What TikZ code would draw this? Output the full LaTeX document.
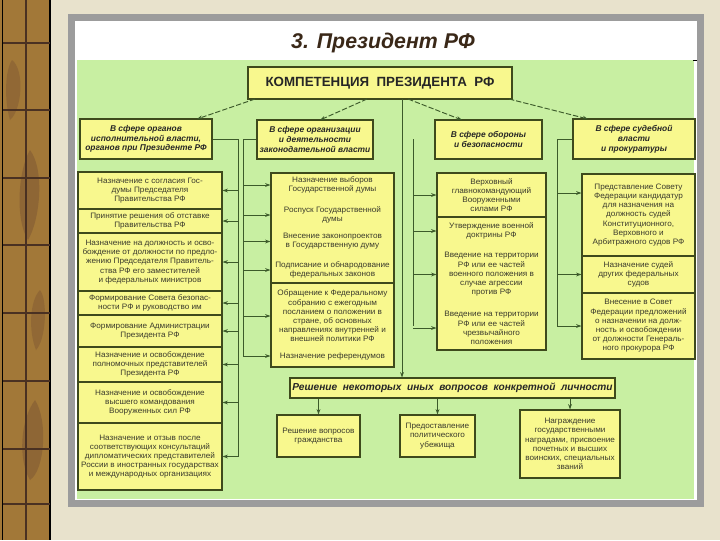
\documentclass[tikz,border=0pt]{standalone}
\usepackage{fontspec}
\setmainfont{Liberation Sans}
\newfontfamily\smallsans[FakeStretch=1.04]{Liberation Sans}
\usetikzlibrary{arrows.meta,fit}
\definecolor{parch}{HTML}{E8E2CC}
\definecolor{stripc}{HTML}{A27838}
\definecolor{stripdk}{HTML}{6A4630}
\definecolor{framegray}{HTML}{9C9C9C}
\definecolor{bggreen}{HTML}{C8EFA2}
\definecolor{boxyel}{HTML}{F8F88E}
\definecolor{boxline}{HTML}{3E4A1C}
\definecolor{conncol}{HTML}{3C5A2A}
\definecolor{txtc}{HTML}{3A3A2C}
\definecolor{titlec}{HTML}{3A2818}
\begin{document}
\begin{tikzpicture}[x=0.75pt,y=-0.75pt,
  box/.style={draw=boxline, fill=boxyel, line width=0.8pt, inner sep=0pt},
  stxt/.style={font=\smallsans\fontsize{5.9}{6.9}\selectfont, text=txtc, align=center, inner sep=0pt},
  htxt/.style={font=\fontsize{6.3}{7.3}\selectfont\bfseries\itshape, text=black!85, align=center, inner sep=0pt},
  cline/.style={draw=conncol, line width=0.7pt},
  arr/.style={cline, -{Stealth[length=4pt,width=2.8pt]}},
  dsh/.style={arr, dash pattern=on 4pt off 1.5pt}]
\useasboundingbox (0,0) rectangle (720,540);
% background
\fill[parch] (0,0) rectangle (720,540);
% left decorative strip
\fill[stripc] (0,0) rectangle (51,540);
\fill[stripdk, opacity=0.35] (30,150) .. controls (45,170) and (40,220) .. (28,240) .. controls (15,220) and (18,170) .. (30,150);
\fill[stripdk, opacity=0.35] (35,400) .. controls (48,420) and (45,470) .. (30,480) .. controls (18,460) and (20,420) .. (35,400);
\fill[stripdk, opacity=0.3] (12,60) .. controls (25,70) and (22,110) .. (10,120) .. controls (4,100) and (5,70) .. (12,60);
\fill[stripdk, opacity=0.3] (40,290) .. controls (48,300) and (46,340) .. (36,350) .. controls (28,330) and (30,300) .. (40,290);
\draw[black, line width=1.2pt] (2.5,0) -- (2.5,540) (50,0) -- (50,540);
\draw[stripdk!70!black, line width=0.8pt] (26,0) -- (26,540);
\foreach \yy in {43,110,178,245,313,381,449,504}
  \draw[stripdk!70!black, line width=0.8pt] (2.5,\yy) -- (50,\yy);
% slide frame
\fill[framegray] (68,14) rectangle (704,507);
\fill[white] (75,21) rectangle (697,500);
\fill[bggreen] (77,60) rectangle (694,499);
\draw[black, line width=0.7pt] (693,60) -- (697,60);
% title
\node[font=\fontsize{16}{18}\selectfont\bfseries\itshape, text=titlec] (title) at (383,43) {3. Президент РФ};
% top box
\node[box, fit={(248,67)(512,99)}] (T) {};
\node[font=\fontsize{10}{11}\selectfont\bfseries, text=black!85, inner sep=0pt] (Tt) at (T) {КОМПЕТЕНЦИЯ\ \ ПРЕЗИДЕНТА\ \ РФ};
% headers
\node[box, fit={(80,119)(212,159)}] (h1) {};
\node[box, fit={(257,120)(373,159)}] (h2) {};
\node[box, fit={(435,120)(542,159)}] (h3) {};
\node[box, fit={(573,119)(695,159)}] (h4) {};
\node[htxt] (h1t) at (h1) {В сфере органов\\исполнительной власти,\\органов при Президенте РФ};
\node[htxt] (h2t) at (h2) {В сфере организации\\и деятельности\\законодательной власти};
\node[htxt] (h3t) at (h3) {В сфере обороны\\и безопасности};
\node[htxt] (h4t) at (h4) {В сфере судебной\\власти\\и прокуратуры};
% dashed connectors from top box
\coordinate (d1s) at (255,99); \coordinate (d1e) at (197,119);
\coordinate (d2s) at (367,99); \coordinate (d2e) at (320,120);
\coordinate (d3s) at (408,99); \coordinate (d3e) at (462,120);
\coordinate (d4s) at (509,99); \coordinate (d4e) at (588,119);
\draw[dsh] (d1s) -- (d1e);
\draw[dsh] (d2s) -- (d2e);
\draw[dsh] (d3s) -- (d3e);
\draw[dsh] (d4s) -- (d4e);
% left column
\node[box, fit={(78,172)(222,209)}] (L1) {};
\node[box, fit={(78,209)(222,233)}] (L2) {};
\node[box, fit={(78,233)(222,291)}] (L3) {};
\node[box, fit={(78,291)(222,315)}] (L4) {};
\node[box, fit={(78,315)(222,347)}] (L5) {};
\node[box, fit={(78,347)(222,382)}] (L6) {};
\node[box, fit={(78,382)(222,423)}] (L7) {};
\node[box, fit={(78,423)(222,490)}] (L8) {};
\node[stxt] (L1t) at (L1) {Назначение с согласия Гос-\\думы Председателя\\Правительства РФ};
\node[stxt] (L2t) at (L2) {Принятие решения об отставке\\Правительства РФ};
\node[stxt] (L3t) at (L3) {Назначение на должность и осво-\\бождение от должности по предло-\\жению Председателя Правитель-\\ства РФ его заместителей\\и федеральных министров};
\node[stxt] (L4t) at (L4) {Формирование Совета безопас-\\ности РФ и руководство им};
\node[stxt] (L5t) at (L5) {Формирование Администрации\\Президента РФ};
\node[stxt] (L6t) at (L6) {Назначение и освобождение\\полномочных представителей\\Президента РФ};
\node[stxt] (L7t) at (L7) {Назначение и освобождение\\высшего командования\\Вооруженных сил РФ};
\node[stxt] (L8t) at (L8) {Назначение и отзыв после\\соответствующих консультаций\\дипломатических представителей\\России в иностранных государствах\\и международных организациях};
\coordinate (v1) at (238,139);
\coordinate (v1b) at (238,457);
\draw[cline] (h1.east) -- (v1) -- (v1b);
\foreach \n in {L1,L2,L3,L4,L5,L6,L7,L8}
  \draw[arr] (\n.east -| v1) -- (\n.east);
% column 2
\node[box, fit={(271,173)(394,283)}] (C2a) {};
\node[box, fit={(271,283)(394,367)}] (C2b) {};
\node[stxt] (t21) at (332.5,185) {Назначение выборов\\Государственной думы};
\node[stxt] (t22) at (332.5,215) {Роспуск Государственной\\думы};
\node[stxt] (t23) at (332.5,241.5) {Внесение законопроектов\\в Государственную думу};
\node[stxt] (t24) at (332.5,270) {Подписание и обнародование\\федеральных законов};
\node[stxt] (t25) at (332.5,316) {Обращение к Федеральному\\собранию с ежегодным\\посланием о положении в\\стране, об основных\\направлениях внутренней и\\внешней политики РФ};
\node[stxt] (t26) at (332.5,356) {Назначение референдумов};
\coordinate (v2) at (243,139.5);
\coordinate (v2b) at (243,356);
\draw[cline] (h2.west) -- (v2) -- (v2b);
\foreach \n in {t21,t22,t23,t24,t25,t26}
  \draw[arr] (\n -| v2) -- (\n -| C2a.west);
% column 3
\node[box, fit={(437,173)(546,217)}] (C3a) {};
\node[box, fit={(437,217)(546,350)}] (C3b) {};
\node[stxt] (t31) at (C3a) {Верховный\\главнокомандующий\\Вооруженными\\силами РФ};
\node[stxt] (t32) at (491.5,231) {Утверждение военной\\доктрины РФ};
\node[stxt] (t33) at (491.5,274.5) {Введение на территории\\РФ или ее частей\\военного положения в\\случае агрессии\\против РФ};
\node[stxt] (t34) at (491.5,328) {Введение на территории\\РФ или ее частей\\чрезвычайного\\положения};
\coordinate (v3) at (413,139);
\coordinate (v3b) at (413,326);
\draw[cline] (v3) -- (v3b);
\foreach \n in {C3a,t32,t33,t34}
  \draw[arr] (\n -| v3) -- (\n -| C3a.west);
% column 4
\node[box, fit={(582,174)(695,256)}] (C4a) {};
\node[box, fit={(582,256)(695,293)}] (C4b) {};
\node[box, fit={(582,293)(695,359)}] (C4c) {};
\node[stxt] (C4at) at (C4a) {Представление Совету\\Федерации кандидатур\\для назначения на\\должность судей\\Конституционного,\\Верховного и\\Арбитражного судов РФ};
\node[stxt] (C4bt) at (C4b) {Назначение судей\\других федеральных\\судов};
\node[stxt] (C4ct) at (C4c) {Внесение в Совет\\Федерации предложений\\о назначении на долж-\\ность и освобождении\\от должности Генераль-\\ного прокурора РФ};
\coordinate (v4) at (557,139);
\coordinate (v4b) at (557,327);
\coordinate (a41) at (557,193);
\draw[cline] (h4.west) -- (v4) -- (v4b);
\draw[arr] (a41) -- (a41 -| C4a.west);
\draw[arr] (C4b.west -| v4) -- (C4b.west);
\draw[arr] (C4c.west -| v4) -- (C4c.west);
% bottom part
\node[box, fit={(290,378)(615,398)}] (R) {};
\node[font=\fontsize{7.6}{9}\selectfont\bfseries\itshape, text=black!85, inner sep=0pt] (Rt) at (R) {Решение\ \ некоторых\ \ иных\ \ вопросов\ \ конкретной\ \ личности};
\coordinate (mv) at (402,99);
\draw[arr] (mv) -- (mv |- R.north);
\node[box, fit={(277,415)(360,457)}] (S1) {};
\node[box, fit={(400,415)(475,457)}] (S2) {};
\node[box, fit={(520,410)(620,478)}] (S3) {};
\node[stxt] (S1t) at (S1) {Решение вопросов\\гражданства};
\node[stxt] (S2t) at (S2) {Предоставление\\политического\\убежища};
\node[stxt] (S3t) at (S3) {Награждение\\государственными\\наградами, присвоение\\почетных и высших\\воинских, специальных\\званий};
\foreach \n in {S1,S2,S3}
  \draw[arr] (R.south -| \n.north) -- (\n.north);
\end{tikzpicture}
\end{document}
